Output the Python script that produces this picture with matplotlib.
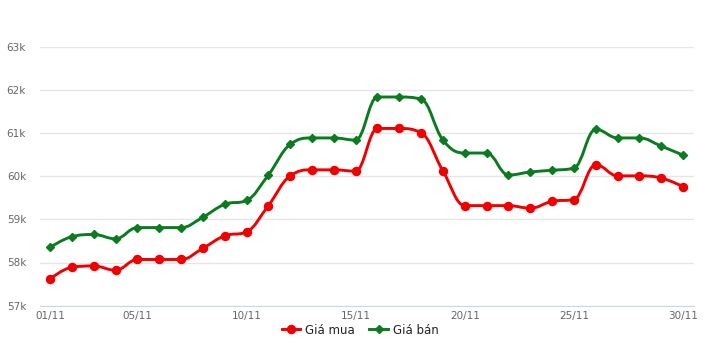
import matplotlib
matplotlib.use("Agg")
import matplotlib.pyplot as plt
from matplotlib.path import Path
from matplotlib.patches import PathPatch
from matplotlib.lines import Line2D

# daily prices, November (thousand units)
days = ["%02d/11" % d for d in range(1, 31)]
gia_mua = [57.62, 57.89, 57.92, 57.82, 58.07, 58.07, 58.07, 58.33, 58.62, 58.71,
           59.32, 60.01, 60.15, 60.15, 60.12, 61.11, 61.11, 61.01, 60.12, 59.32,
           59.32, 59.32, 59.26, 59.42, 59.46, 60.27, 60.01, 60.01, 59.96, 59.76]
gia_ban = [58.35, 58.60, 58.65, 58.55, 58.81, 58.81, 58.81, 59.05, 59.35, 59.44,
           60.03, 60.74, 60.89, 60.89, 60.84, 61.84, 61.84, 61.79, 60.84, 60.54,
           60.54, 60.03, 60.10, 60.14, 60.19, 61.09, 60.89, 60.89, 60.70, 60.49]
tick_idx = [0, 4, 9, 14, 19, 24, 29]
y_ticks = [57, 58, 59, 60, 61, 62, 63]

RED = "#f20000"
GREEN = "#0a7b1e"


def spline_path(xs, ys, smoothing=1.5):
    # highcharts-style spline: cubic bezier per segment
    n = len(xs)
    left = [(xs[i], ys[i]) for i in range(n)]
    right = [(xs[i], ys[i]) for i in range(n)]
    den = smoothing + 1
    for i in range(1, n - 1):
        px, py = xs[i], ys[i]
        lx, ly = xs[i - 1], ys[i - 1]
        nx, ny = xs[i + 1], ys[i + 1]
        lcx = (smoothing * px + lx) / den
        lcy = (smoothing * py + ly) / den
        rcx = (smoothing * px + nx) / den
        rcy = (smoothing * py + ny) / den
        if rcx != lcx:
            corr = (rcy - lcy) * (rcx - px) / (rcx - lcx) + py - rcy
            lcy += corr
            rcy += corr
        if lcy > ly and lcy > py:
            lcy = max(ly, py)
            rcy = 2 * py - lcy
        elif lcy < ly and lcy < py:
            lcy = min(ly, py)
            rcy = 2 * py - lcy
        if rcy > ny and rcy > py:
            rcy = max(ny, py)
            lcy = 2 * py - rcy
        elif rcy < ny and rcy < py:
            rcy = min(ny, py)
            lcy = 2 * py - rcy
        left[i] = (lcx, lcy)
        right[i] = (rcx, rcy)
    verts = [(xs[0], ys[0])]
    codes = [Path.MOVETO]
    for i in range(1, n):
        verts += [right[i - 1], left[i], (xs[i], ys[i])]
        codes += [Path.CURVE4] * 3
    return Path(verts, codes)


fig = plt.figure(figsize=(7.2, 3.64), dpi=100)
ax = fig.add_axes([40 / 720, 1 - 305.6 / 364, 654 / 720, (305.6 - 47) / 364])

x = list(range(len(days)))
for vals, col, mk, ms in [(gia_mua, RED, "o", 5.8), (gia_ban, GREEN, "D", 4)]:
    yv = [v * 1000 for v in vals]
    ax.add_patch(PathPatch(spline_path(x, yv), fill=False, edgecolor=col,
                           lw=2.1, capstyle="round", joinstyle="round", zorder=3))
    ax.plot(x, yv, linestyle="none", marker=mk, ms=ms, color=col, zorder=4)

ax.set_xlim(-0.46, 29.5)
ax.set_ylim(57000, 63000)
ax.set_yticks([v * 1000 for v in y_ticks])
ax.set_yticklabels(["%dk" % v for v in y_ticks])
ax.set_xticks(tick_idx)
ax.set_xticklabels([days[i] for i in tick_idx])
ax.grid(axis="y", color="#e6e6e6", lw=1)
ax.set_axisbelow(True)
for s in ["top", "right", "left"]:
    ax.spines[s].set_visible(False)
ax.spines["bottom"].set_color("#ccd6eb")
ax.tick_params(axis="both", length=0, colors="#666666", labelsize=7.5)
ax.tick_params(axis="y", pad=10)
ax.tick_params(axis="x", pad=4)

handles = [Line2D([], [], color=RED, lw=2.1, marker="o", ms=5.8),
           Line2D([], [], color=GREEN, lw=2.1, marker="D", ms=4)]
fig.legend(handles, ["Giá mua", "Giá bán"], loc="center", bbox_to_anchor=(0.5, 1 - 330 / 364),
           ncol=2, frameon=False, fontsize=8.5, handlelength=1.6, columnspacing=1.2,
           handletextpad=0.4, labelcolor="#222222")

fig.savefig("out.png", dpi=100, facecolor="white")
